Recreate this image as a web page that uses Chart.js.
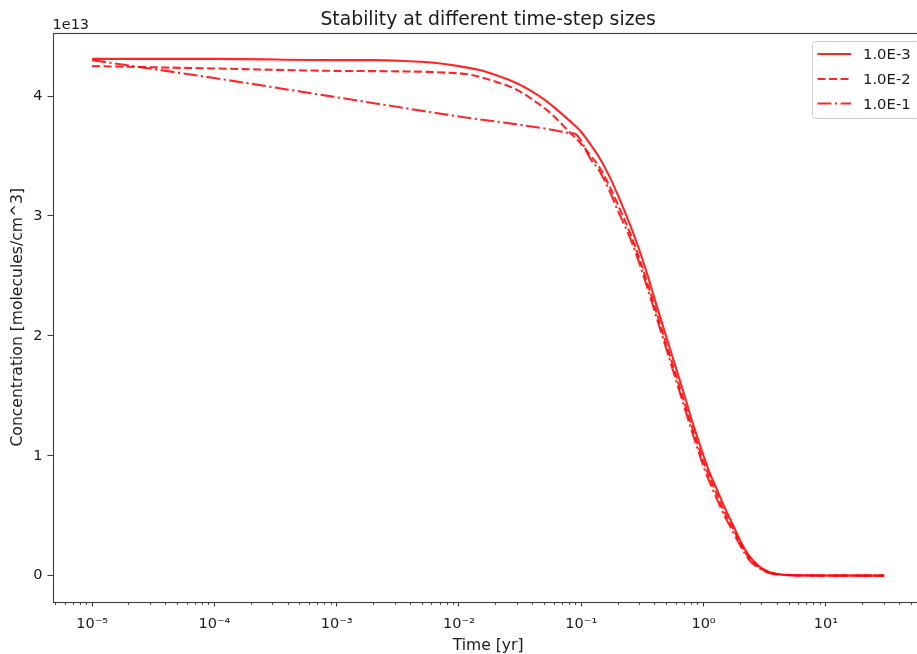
<!DOCTYPE html>
<html><head><meta charset="utf-8">
<script src="https://cdn.jsdelivr.net/npm/chart.js@4.4.1/dist/chart.umd.min.js"></script>
<style>
html,body{margin:0;padding:0;background:#fff;overflow:hidden;}
#wrap{width:917px;height:654px;overflow:hidden;position:relative;background:#fff;}
canvas{display:block;}
</style></head><body>
<div id="wrap"><canvas id="c" width="930" height="654" style="width:930px;height:654px"></canvas></div>
<script>
// ---- texts ----
const chartTitle = 'Stability at different time-step sizes';
const xLabel = 'Time [yr]';
const yLabel = 'Concentration [molecules/cm^3]';
const seriesLabels = ['1.0E-3', '1.0E-2', '1.0E-1'];
const yOffsetText = '1e13';
const yUnit = 1e13;

// ---- ticks ----
const xTickValues = [1e-5, 1e-4, 1e-3, 1e-2, 1e-1, 1, 10];
const xTickLabels = ['10\u207B\u2075', '10\u207B\u2074', '10\u207B\u00B3', '10\u207B\u00B2', '10\u207B\u00B9', '10\u2070', '10\u00B9'];
const yTickValues = [0, 1, 2, 3, 4];          // in units of 1e13
const yTickLabels = ['0', '1', '2', '3', '4'];

// ---- series: dt = 1.0E-3 (solid) ----
const timeA = [1e-5, 1e-4, 1e-3, 2e-3, 4e-3, 6e-3, 0.01, 0.015, 0.02, 0.03, 0.04, 0.05, 0.066, 0.08, 0.1, 0.12, 0.14, 0.17, 0.2, 0.25, 0.3, 0.35, 0.4, 0.5, 0.6, 0.7, 0.8, 0.9, 1.0, 1.12, 1.26, 1.5, 1.71, 2.0, 2.35, 2.8, 3.2, 3.65, 4.3, 5, 7, 10, 15, 20, 30];
const concA = [4.31, 4.31, 4.30, 4.30, 4.29, 4.28, 4.25, 4.215, 4.175, 4.105, 4.035, 3.97, 3.87, 3.795, 3.70, 3.59, 3.49, 3.33, 3.17, 2.93, 2.71, 2.50, 2.30, 1.98, 1.72, 1.50, 1.30, 1.14, 1.00, 0.86, 0.74, 0.56, 0.44, 0.29, 0.17, 0.085, 0.045, 0.022, 0.01, 0.005, 0.002, 0.001, 0.001, 0.0005, 0.0005];

// ---- series: dt = 1.0E-2 (dashed) ----
const timeB = [1e-5, 1e-4, 1e-3, 0.01, 0.02, 0.03, 0.04, 0.05, 0.06, 0.08, 0.1, 0.12, 0.14, 0.17, 0.2, 0.25, 0.3, 0.35, 0.4, 0.5, 0.6, 0.7, 0.8, 0.9, 1.0, 1.12, 1.26, 1.5, 1.71, 2.0, 2.35, 2.8, 3.2, 3.65, 4.3, 5, 7, 10, 15, 20, 30];
const concB = [4.25, 4.23, 4.21, 4.19, 4.12, 4.05, 3.97, 3.90, 3.83, 3.70, 3.60, 3.50, 3.41, 3.25, 3.09, 2.86, 2.64, 2.43, 2.24, 1.92, 1.66, 1.44, 1.25, 1.09, 0.95, 0.82, 0.70, 0.52, 0.41, 0.27, 0.15, 0.075, 0.04, 0.02, 0.009, 0.004, 0.0015, 0.0005, 0, 0, 0];

// ---- series: dt = 1.0E-1 (dash-dot) ----
const timeC = [1e-5, 1e-4, 1e-3, 1e-2, 0.05, 0.08, 0.09, 0.12, 0.14, 0.17, 0.2, 0.25, 0.3, 0.35, 0.4, 0.5, 0.6, 0.7, 0.8, 0.9, 1.0, 1.12, 1.26, 1.5, 1.71, 2.0, 2.35, 2.8, 3.2, 3.65, 4.3, 5, 7, 10, 15, 20, 30];
const concC = [4.30, 4.15, 3.99, 3.83, 3.73, 3.693, 3.683, 3.47, 3.38, 3.21, 3.04, 2.82, 2.60, 2.39, 2.20, 1.88, 1.62, 1.40, 1.21, 1.05, 0.91, 0.78, 0.66, 0.49, 0.38, 0.25, 0.135, 0.067, 0.035, 0.017, 0.008, 0.003, 0.001, 0, 0, 0, 0];

// ---- axis ranges ----
const xMin = 4.74e-6, xMax = 63.2;
const yMin = -0.2155, yMax = 4.526;   // in units of 1e13

const FONT = "'DejaVu Sans', sans-serif";
const TXT = '#1a1a1a';
const AX = '#3c3c3c';
const lineColor = 'rgba(255,0,0,0.85)';
const dashStyles = [[], [8, 3.5], [13.9, 3.5, 2.2, 3.5]];
const LW = 2.1;

function isMajor(v) {
  return xTickValues.some(t => Math.abs(Math.log10(t) - Math.log10(v)) < 1e-6);
}
const minorTicks = [];
for (let k = -6; k <= 1; k++) for (let m = 2; m <= 9; m++) {
  const v = m * Math.pow(10, k);
  if (v >= xMin && v <= xMax) minorTicks.push(v);
}
const allXTicks = xTickValues.concat(minorTicks).sort((a, b) => a - b);

function makeDs(i, t, c) {
  return {
    label: seriesLabels[i],
    data: t.map((x, j) => ({ x: x, y: c[j] * yUnit })),
    borderColor: lineColor, backgroundColor: lineColor,
    borderWidth: LW, borderDash: dashStyles[i],
    borderCapStyle: 'butt', borderJoinStyle: 'round',
    pointRadius: 0, cubicInterpolationMode: 'monotone', fill: false
  };
}

const decor = {
  id: 'decor',
  afterDraw(chart) {
    const ctx = chart.ctx, a = chart.chartArea;
    ctx.save();
    // spines
    ctx.strokeStyle = AX; ctx.lineWidth = 1.1;
    ctx.strokeRect(Math.round(a.left) + 0.5, Math.round(a.top) + 0.5, Math.round(a.right - a.left), Math.round(a.bottom - a.top));
    // title
    ctx.fillStyle = TXT;
    ctx.font = '18.8px ' + FONT;
    ctx.textAlign = 'center'; ctx.textBaseline = 'alphabetic';
    ctx.fillText(chartTitle, (a.left + a.right) / 2, 24.5);
    // offset text
    ctx.font = '14.5px ' + FONT;
    ctx.textAlign = 'left';
    ctx.fillText(yOffsetText, a.left, 29);
    // legend
    const lx = 812.5, ly = 41.5, lw = 106, lh = 77;
    ctx.beginPath();
    if (ctx.roundRect) ctx.roundRect(lx, ly, lw, lh, 3); else ctx.rect(lx, ly, lw, lh);
    ctx.fillStyle = 'rgba(255,255,255,0.8)'; ctx.fill();
    ctx.strokeStyle = '#cccccc'; ctx.lineWidth = 1; ctx.stroke();
    const rows = [54, 79, 103.5];
    chart.data.datasets.forEach((d, i) => {
      ctx.beginPath();
      ctx.setLineDash(dashStyles[i]);
      ctx.strokeStyle = lineColor; ctx.lineWidth = LW; ctx.lineCap = 'butt';
      ctx.moveTo(817.5, rows[i]); ctx.lineTo(851, rows[i]); ctx.stroke();
      ctx.setLineDash([]);
      ctx.fillStyle = TXT; ctx.font = '14.8px ' + FONT;
      ctx.textAlign = 'left'; ctx.textBaseline = 'alphabetic';
      ctx.fillText(d.label, 863, rows[i] + 5.3);
    });
    ctx.restore();
  }
};

new Chart(document.getElementById('c'), {
  type: 'line',
  data: { datasets: [makeDs(0, timeA, concA), makeDs(1, timeB, concB), makeDs(2, timeC, concC)] },
  options: {
    responsive: false, animation: false, devicePixelRatio: 1,
    layout: { padding: { left: 0, top: 33, right: 5, bottom: 0 } },
    plugins: { legend: { display: false }, title: { display: false }, tooltip: { enabled: false } },
    scales: {
      x: {
        type: 'logarithmic', position: 'bottom', min: xMin, max: xMax,
        afterBuildTicks: s => { s.ticks = allXTicks.map(v => ({ value: v, major: isMajor(v) })); },
        afterFit: s => { s.height = 52.5; },
        ticks: {
          autoSkip: false, maxRotation: 0, minRotation: 0, padding: 9, color: TXT,
          font: { family: FONT, size: 14.5 },
          callback: (v) => { const i = xTickValues.findIndex(t => Math.abs(Math.log10(t) - Math.log10(v)) < 1e-6); return i >= 0 ? xTickLabels[i] : ''; }
        },
        grid: {
          drawOnChartArea: false, drawTicks: true, tickLength: 5, tickColor: AX, tickWidth: 1.1,
          tickBorderDash: c => (c.tick && !isMajor(c.tick.value)) ? [2.8, 30] : []
        },
        border: { display: false },
        title: { display: true, text: xLabel, color: TXT, font: { family: FONT, size: 15.6, lineHeight: 1 }, padding: { top: 0, bottom: 0 } }
      },
      y: {
        type: 'linear', min: yMin * yUnit, max: yMax * yUnit,
        afterBuildTicks: s => { s.ticks = yTickValues.map(v => ({ value: v * yUnit })); },
        afterFit: s => { s.width = 52.5; },
        ticks: {
          padding: 5, color: TXT, font: { family: FONT, size: 14.5 },
          callback: (v) => { const i = yTickValues.findIndex(t => Math.abs(t * yUnit - v) < 1e6); return i >= 0 ? yTickLabels[i] : ''; }
        },
        grid: { drawOnChartArea: false, drawTicks: true, tickLength: 5, tickColor: AX, tickWidth: 1.1 },
        border: { display: false },
        title: { display: true, text: yLabel, color: TXT, font: { family: FONT, size: 15.6, lineHeight: 1 }, padding: { top: 10, bottom: 0 } }
      }
    }
  },
  plugins: [decor]
});
</script>
</body></html>
